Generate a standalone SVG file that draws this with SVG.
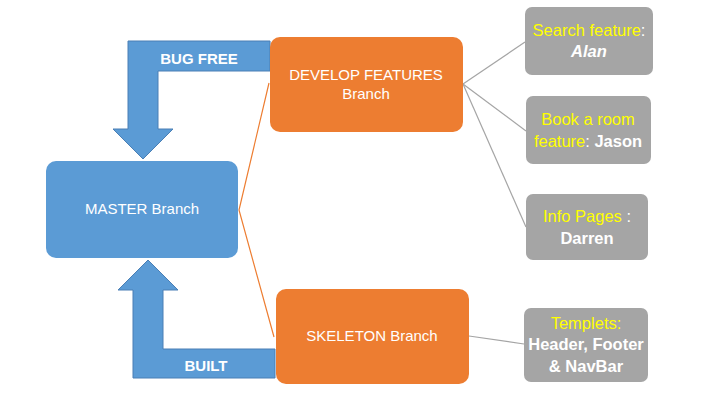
<svg xmlns="http://www.w3.org/2000/svg" width="713" height="398" viewBox="0 0 713 398">
  <style>
    text { font-family: "Liberation Sans", Arial, sans-serif; font-size: 15px; text-anchor: middle; }
    .feat text { font-size: 16.5px; }
    .blue { fill: #5B9BD5; }
    .orange { fill: #ED7D31; }
    .gray { fill: #A5A5A5; }
    .arrow { fill: #5B9BD5; stroke: #4A7FB5; stroke-width: 1; }
    .w { fill: #FFFFFF; }
    .y { fill: #FFFF00; }
    .b { font-weight: bold; }
  </style>
  <rect width="713" height="398" fill="#FFFFFF"/>

  <!-- connectors -->
  <g id="connectors" fill="none">
    <polyline points="269,83 239,210 274,337" stroke="#ED7D31" stroke-width="1.2"/>
    <g stroke="#A5A5A5" stroke-width="1.2">
      <line x1="463" y1="84" x2="525" y2="42"/>
      <line x1="463" y1="84" x2="526" y2="131"/>
      <line x1="463" y1="84" x2="526" y2="227"/>
      <line x1="469" y1="336" x2="524" y2="344"/>
    </g>
  </g>

  <!-- bent arrows -->
  <g id="bug-free-arrow">
    <polygon class="arrow" points="270,41 270,71 158,71 158,129 173,129 143,159 113,129 128,129 128,41"/>
    <text x="199" y="64" class="w b">BUG FREE</text>
  </g>
  <g id="built-arrow">
    <polygon class="arrow" points="275,378 275,349 163,349 163,290 178,290 148,260 118,290 133,290 133,378"/>
    <text x="206" y="371" class="w b">BUILT</text>
  </g>

  <!-- branch nodes -->
  <g id="master">
    <rect class="blue" x="46" y="161" width="192" height="97" rx="10"/>
    <text x="142" y="214" class="w">MASTER Branch</text>
  </g>
  <g id="develop">
    <rect class="orange" x="270" y="37" width="193" height="95" rx="10"/>
    <text x="366" y="80" class="w">DEVELOP FEATURES</text>
    <text x="366" y="99" class="w">Branch</text>
  </g>
  <g id="skeleton">
    <rect class="orange" x="276" y="289" width="193" height="95" rx="10"/>
    <text x="372" y="341" class="w">SKELETON Branch</text>
  </g>

  <!-- feature nodes -->
  <g id="search" class="feat">
    <rect class="gray" x="525" y="7" width="128" height="68" rx="7"/>
    <text x="589" y="36"><tspan class="y">Search feature</tspan><tspan class="w">:</tspan></text>
    <text x="589" y="57" class="w b" font-style="italic">Alan</text>
  </g>
  <g id="book" class="feat">
    <rect class="gray" x="526" y="96" width="125" height="68" rx="7"/>
    <text x="588" y="125" class="y">Book a room</text>
    <text x="588" y="147"><tspan class="y">feature</tspan><tspan class="w">: </tspan><tspan class="w b">Jason</tspan></text>
  </g>
  <g id="info" class="feat">
    <rect class="gray" x="526" y="194" width="122" height="66" rx="7"/>
    <text x="587" y="222"><tspan class="y">Info Pages</tspan><tspan class="w"> :</tspan></text>
    <text x="587" y="244" class="w b">Darren</text>
  </g>
  <g id="templets" class="feat">
    <rect class="gray" x="524" y="308" width="124" height="74" rx="7"/>
    <text x="586" y="329" class="y">Templets:</text>
    <text x="586" y="350" class="w b">Header, Footer</text>
    <text x="586" y="372" class="w b">&amp; NavBar</text>
  </g>
</svg>
